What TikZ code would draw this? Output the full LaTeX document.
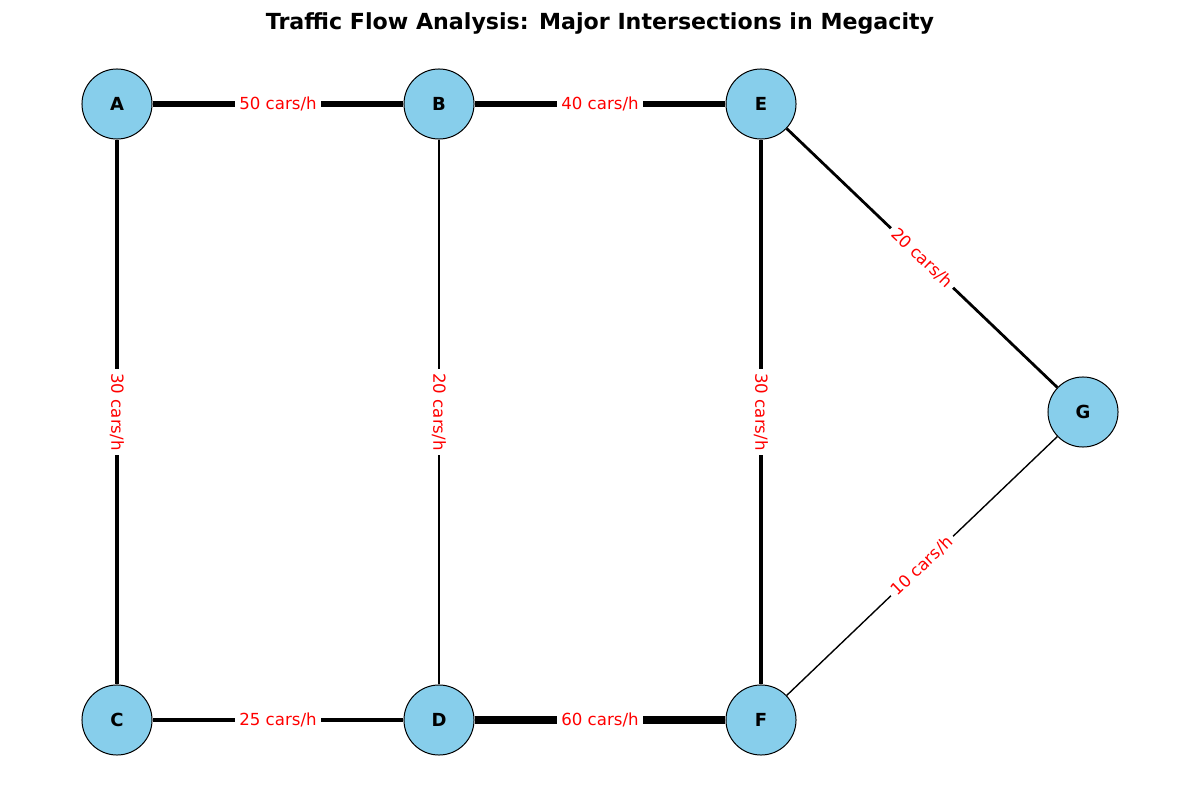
\documentclass[tikz,border=0pt]{standalone}
\usepackage{fontspec}
\setmainfont{DejaVu Sans}
\usetikzlibrary{positioning}
\definecolor{skyb}{HTML}{87CEEB}
\tikzstyle{isec}=[circle,draw=black,line width=0.72pt,fill=skyb,minimum size=0.7in,inner sep=0pt,font=\bfseries\fontsize{13}{15}\selectfont]
\tikzstyle{flow}=[midway,sloped,fill=white,text=red,inner sep=3pt,font=\fontsize{12}{14}\selectfont]

\begin{document}
\begin{tikzpicture}[x=0.01in,y=-0.01in]
\useasboundingbox (0,0) rectangle (1200,800);
\draw (600,23) node[font=\bfseries\fontsize{16}{19}\selectfont]{Traffic Flow Analysis: Major Intersections in Megacity};
\node[isec] (A) at (117,104) {A};
\node[isec] (B) at (439,104) {B};
\node[isec] (E) at (761,104) {E};
\node[isec] (G) at (1083,412) {G};
\node[isec] (C) at (117,720) {C};
\node[isec] (D) at (439,720) {D};
\node[isec] (F) at (761,720) {F};
\draw[line width=5pt] (A) -- node[flow]{50 cars/h} (B);
\draw[line width=4pt] (B) -- node[flow]{40 cars/h} (E);
\draw[line width=3pt] (A) -- node[flow]{30 cars/h} (C);
\draw[line width=2pt] (B) -- node[flow]{20 cars/h} (D);
\draw[line width=3pt] (E) -- node[flow]{30 cars/h} (F);
\draw[line width=2pt] (E) -- node[flow]{20 cars/h} (G);
\draw[line width=1pt] (F) -- node[flow]{10 cars/h} (G);
\draw[line width=2.5pt] (C) -- node[flow]{25 cars/h} (D);
\draw[line width=6pt] (D) -- node[flow]{60 cars/h} (F);
\end{tikzpicture}
\end{document}
